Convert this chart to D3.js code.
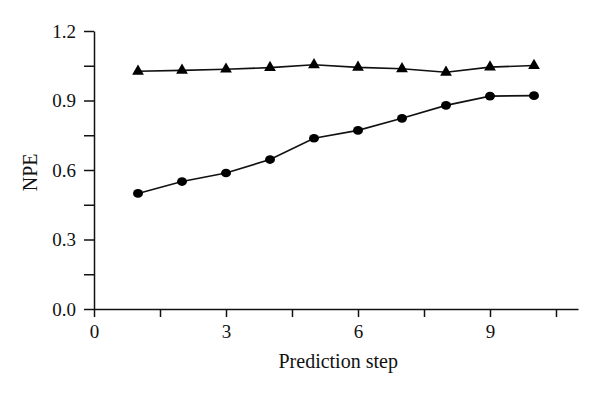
<!DOCTYPE html>
<html>
<head>
<meta charset="utf-8">
<script src="https://cdn.jsdelivr.net/npm/d3@7"></script>
<style>
  body { margin: 0; background: #fff; }
  svg text { font-family: "Liberation Serif", "DejaVu Serif", serif; fill: #111; }
  .axis path, .axis line { stroke: #111; stroke-width: 1.5; }
</style>
</head>
<body>
<div id="chart"></div>
<script>
// prediction steps and NPE values
var steps = [1, 2, 3, 4, 5, 6, 7, 8, 9, 10];
var npeTriangle = [1.026, 1.030, 1.035, 1.042, 1.054, 1.043, 1.037, 1.022, 1.044, 1.051];
var npeCircle = [0.499, 0.550, 0.587, 0.645, 0.737, 0.771, 0.823, 0.879, 0.919, 0.921];
var xTicks = [0, 1.5, 3, 4.5, 6, 7.5, 9, 10.5];
var xLabels = [0, 3, 6, 9];
var yTicks = [0, 0.15, 0.3, 0.45, 0.6, 0.75, 0.9, 1.05, 1.2];
var yLabels = [0, 0.3, 0.6, 0.9, 1.2];

var w = 600, h = 395;
var margin = {top: 31, right: 22, bottom: 86, left: 94}
    , width = w - margin.left - margin.right
    , height = h - margin.top - margin.bottom;

var svg = d3.select("#chart").append("svg")
    .attr("width", w)
    .attr("height", h);

var g = svg.append("g")
    .attr("transform", "translate(" + margin.left + "," + margin.top + ")");

var x = d3.scaleLinear().domain([0, 11]).range([0, width]);
var y = d3.scaleLinear().domain([0, 1.2]).range([height, 0]);

var xAxis = d3.axisBottom(x)
    .tickValues(xTicks)
    .tickSizeInner(8)
    .tickSizeOuter(0)
    .tickPadding(8)
    .tickFormat(d => xLabels.indexOf(d) >= 0 ? d3.format("d")(d) : "");

var yAxis = d3.axisLeft(y)
    .tickValues(yTicks)
    .tickSizeInner(10)
    .tickSizeOuter(0)
    .tickPadding(8)
    .tickFormat(d => yLabels.some(v => Math.abs(v - d) < 1e-9) ? d3.format(".1f")(d) : "");

g.append("g")
    .attr("class", "axis axis--x")
    .attr("transform", "translate(0," + height + ")")
    .call(xAxis)
    .selectAll("text")
    .style("font-size", "19px");

g.append("g")
    .attr("class", "axis axis--y")
    .call(yAxis)
    .selectAll("text")
    .style("font-size", "19px");

// axis titles
svg.append("text")
    .attr("x", margin.left + x(5.55))
    .attr("y", 368)
    .attr("text-anchor", "middle")
    .style("font-size", "20px")
    .text("Prediction step");

svg.append("text")
    .attr("transform", "translate(37," + (margin.top + y(0.59)) + ") rotate(-90)")
    .attr("text-anchor", "middle")
    .style("font-size", "20px")
    .text("NPE");

var line_gen = d3.line()
    .x((d, i) => x(steps[i]))
    .y(d => y(d));

g.append("path")
    .attr("d", line_gen(npeTriangle))
    .attr("fill", "none")
    .attr("stroke", "#111")
    .attr("stroke-width", 1.6);

g.append("path")
    .attr("d", line_gen(npeCircle))
    .attr("fill", "none")
    .attr("stroke", "#111")
    .attr("stroke-width", 1.6);

var tri = d3.symbol().type(d3.symbolTriangle).size(60);

g.selectAll(".tri")
    .data(npeTriangle)
    .enter()
    .append("path")
    .attr("class", "tri")
    .attr("d", tri)
    .attr("transform", (d, i) => "translate(" + x(steps[i]) + "," + y(d) + ")")
    .attr("fill", "#000");

g.selectAll(".dot")
    .data(npeCircle)
    .enter()
    .append("ellipse")
    .attr("class", "dot")
    .attr("cx", (d, i) => x(steps[i]))
    .attr("cy", d => y(d))
    .attr("rx", 5)
    .attr("ry", 4.3)
    .attr("fill", "#000");
</script>
</body>
</html>
